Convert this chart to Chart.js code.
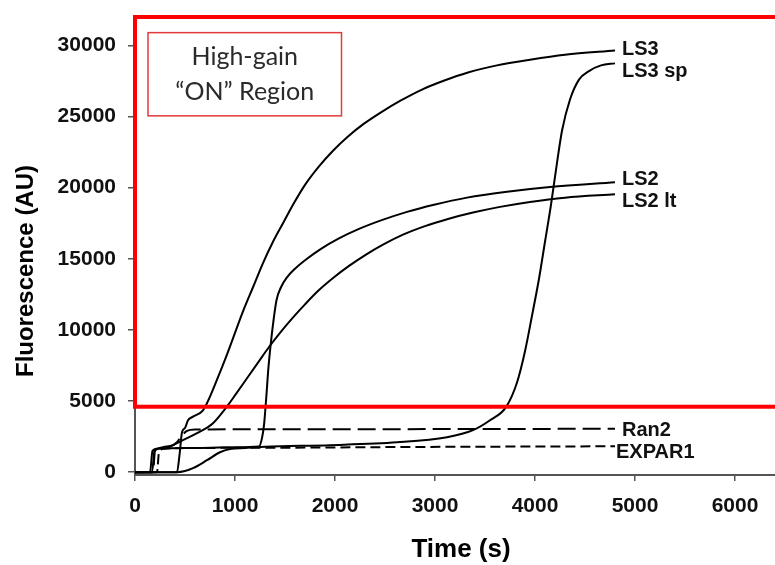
<!DOCTYPE html>
<html>
<head>
<meta charset="utf-8">
<script src="https://cdn.jsdelivr.net/npm/chart.js@4"></script>
<style>
  html, body { margin: 0; padding: 0; background: #fff; }
  canvas { display: block; }
</style>
</head>
<body>
<canvas id="graficoFluorescencia" width="775" height="565"></canvas>
<script>
// Datos: tiempo (s) y fluorescencia (AU) de cada curva
const tiempoLS3 = [0, 420, 445, 470, 500, 530, 580, 680, 730, 820, 905, 990, 1080, 1180, 1280, 1380, 1480, 1580, 1700, 1840, 1980, 2130, 2290, 2460, 2650, 2870, 3080, 3330, 3620, 3950, 4300, 4800];
const valoresLS3 = [0, 0, 1200, 2800, 3100, 3650, 3900, 4350, 5000, 6500, 8000, 9600, 11300, 13000, 14700, 16200, 17500, 18800, 20200, 21500, 22600, 23600, 24500, 25300, 26100, 26900, 27500, 28100, 28600, 29000, 29350, 29650];

const tiempoLS3sp = [0, 420, 500, 580, 720, 850, 950, 1100, 1300, 1950, 2620, 3120, 3380, 3550, 3710, 3820, 3900, 3970, 4040, 4100, 4160, 4215, 4270, 4350, 4440, 4540, 4660, 4800];
const valoresLS3sp = [0, 0, 80, 280, 840, 1400, 1620, 1700, 1780, 1900, 2100, 2460, 2950, 3650, 4570, 6300, 8500, 11000, 13600, 16200, 18800, 21500, 24000, 26200, 27600, 28200, 28600, 28740];

const tiempoLS2 = [0, 170, 195, 240, 600, 1000, 1240, 1270, 1290, 1310, 1335, 1365, 1415, 1460, 1520, 1600, 1720, 1860, 2030, 2240, 2460, 2720, 2990, 3320, 3700, 4150, 4800];
const valoresLS2 = [0, 0, 1500, 1650, 1700, 1750, 1800, 2400, 3300, 5000, 7400, 9500, 12090, 13000, 13700, 14300, 15000, 15700, 16400, 17100, 17700, 18300, 18800, 19300, 19700, 20050, 20380];

const tiempoLS2lt = [0, 150, 175, 220, 280, 380, 420, 480, 620, 780, 917, 1010, 1120, 1230, 1340, 1450, 1570, 1700, 1840, 1990, 2140, 2310, 2480, 2680, 2900, 3130, 3380, 3650, 3950, 4300, 4800];
const valoresLS2lt = [0, 0, 1500, 1650, 1760, 1900, 2040, 2250, 2740, 3440, 4590, 5500, 6600, 7700, 8800, 9800, 10800, 11800, 12800, 13700, 14500, 15300, 16000, 16700, 17300, 17800, 18250, 18650, 19000, 19300, 19530];

const tiempoRan2 = [0, 180, 200, 250, 350, 420, 460, 520, 600, 2000, 4800];
const valoresRan2 = [0, 0, 1500, 1700, 1800, 2100, 2500, 2900, 3000, 3020, 3050];

const tiempoEXPAR1 = [0, 220, 240, 290, 600, 1500, 2500, 3500, 4800];
const valoresEXPAR1 = [0, 0, 1400, 1650, 1700, 1720, 1760, 1790, 1820];

// Nombres de las curvas (se escriben al final de cada una)
const nombresCurvas = ['LS3', 'LS3 sp', 'LS2', 'LS2 lt', 'Ran2', 'EXPAR1'];

// Marcas de los ejes
const ticksX = [0, 1000, 2000, 3000, 4000, 5000, 6000];
const ticksY = [0, 5000, 10000, 15000, 20000, 25000, 30000];

// Límites de la región "ON" (recuadro rojo) y del cuadro de texto
const regionOnMin = 4600;
const regionOnMax = 32000;
const textoRegion = ['High-gain', '\u201CON\u201D Region'];

// Une tiempos y valores en puntos {x, y}
function puntos(tiempos, valores) {
    return tiempos.map((t, i) => ({ x: t, y: valores[i] }));
}

const series = [
    puntos(tiempoLS3, valoresLS3),
    puntos(tiempoLS3sp, valoresLS3sp),
    puntos(tiempoLS2, valoresLS2),
    puntos(tiempoLS2lt, valoresLS2lt),
    puntos(tiempoRan2, valoresRan2),
    puntos(tiempoEXPAR1, valoresEXPAR1)
];

// Estilo de línea de cada curva (las dos últimas son discontinuas)
const guiones = [[], [], [], [], [18, 7], [10, 5]];
// Ajuste en píxeles de cada etiqueta respecto al final de su curva
const ajusteEtiquetas = [[7, 5], [7, 13.7], [7, 3], [7, 13], [7, 7.4], [1, 12]];

// Plugin que dibuja el recuadro rojo, el cuadro de texto, las etiquetas y los títulos
const extras = {
    id: 'extras',
    afterDatasetsDraw(chart) {
        const ctx = chart.ctx;
        const x = chart.scales.x;
        const y = chart.scales.y;
        ctx.save();

        // Recuadro rojo de la región "ON"
        const x0 = x.getPixelForValue(0);
        const yArriba = y.getPixelForValue(regionOnMax);
        const yAbajo = y.getPixelForValue(regionOnMin);
        ctx.strokeStyle = '#ff0000';
        ctx.lineWidth = 4;
        ctx.strokeRect(x0, yArriba, chart.width + 20 - x0, yAbajo - yArriba);

        // Cuadro de texto "High-gain ON Region"
        const bx0 = x.getPixelForValue(130), bx1 = x.getPixelForValue(2065);
        const by0 = y.getPixelForValue(30900), by1 = y.getPixelForValue(25050);
        ctx.strokeStyle = '#e23a3a';
        ctx.lineWidth = 1.5;
        ctx.strokeRect(bx0, by0, bx1 - bx0, by1 - by0);
        ctx.fillStyle = '#2a2a2a';
        ctx.font = '25px Lato, "Open Sans", sans-serif';
        ctx.textAlign = 'center';
        ctx.textBaseline = 'alphabetic';
        ctx.fillText(textoRegion[0], (bx0 + bx1) / 2, by0 + 32.5);
        ctx.fillText(textoRegion[1], (bx0 + bx1) / 2, by0 + 67.5);

        // Etiquetas al final de cada curva
        ctx.fillStyle = '#111';
        ctx.font = 'bold 20px "Liberation Sans", Arial, sans-serif';
        ctx.textAlign = 'left';
        series.forEach((datos, i) => {
            const ultimo = datos[datos.length - 1];
            const px = x.getPixelForValue(ultimo.x) + ajusteEtiquetas[i][0];
            const py = y.getPixelForValue(ultimo.y) + ajusteEtiquetas[i][1];
            ctx.fillText(nombresCurvas[i], px, py);
        });

        // Títulos de los ejes
        ctx.fillStyle = '#000';
        ctx.font = 'bold 26px "Liberation Sans", Arial, sans-serif';
        ctx.textAlign = 'center';
        ctx.fillText('Time (s)', 461, 557);
        ctx.save();
        ctx.translate(33, 271);
        ctx.rotate(-Math.PI / 2);
        ctx.font = 'bold 24px "Liberation Sans", Arial, sans-serif';
        ctx.fillText('Fluorescence (AU)', 0, 0);
        ctx.restore();

        ctx.restore();
    }
};

const fuenteTicks = { family: '"Liberation Sans", Arial, sans-serif', size: 21, weight: 'bold' };

const ctx = document.getElementById('graficoFluorescencia').getContext('2d');
window.chart = new Chart(ctx, {
    type: 'line',
    data: {
        datasets: series.map((datos, i) => ({
            label: nombresCurvas[i],
            data: datos,
            borderColor: '#000',
            borderWidth: 2,
            borderDash: guiones[i],
            pointRadius: 0,
            fill: false,
            cubicInterpolationMode: 'monotone'
        }))
    },
    options: {
        responsive: false,
        animation: false,
        devicePixelRatio: 1,
        layout: { padding: { top: 17, right: 0, bottom: 0, left: 0 } },
        plugins: {
            legend: { display: false },
            tooltip: { enabled: false }
        },
        scales: {
            x: {
                type: 'linear',
                min: 0,
                max: 6400,
                afterFit: (escala) => {
                    escala.height = 90;
                    escala.paddingLeft = 0;
                    escala.paddingRight = 0;
                },
                afterBuildTicks: (escala) => { escala.ticks = ticksX.map(v => ({ value: v })); },
                ticks: {
                    callback: (v) => String(v),
                    font: fuenteTicks,
                    color: '#111',
                    padding: 13,
                    maxRotation: 0
                },
                grid: { drawOnChartArea: false, drawTicks: true, tickLength: 6, color: '#555', lineWidth: 1.5 },
                border: { display: true, color: '#555', width: 2 }
            },
            y: {
                type: 'linear',
                min: -200,
                max: 32000,
                afterFit: (escala) => {
                    escala.width = 135;
                    escala.paddingTop = 0;
                    escala.paddingBottom = 0;
                },
                afterBuildTicks: (escala) => { escala.ticks = ticksY.map(v => ({ value: v })); },
                ticks: {
                    callback: (v) => String(v),
                    font: fuenteTicks,
                    color: '#111',
                    padding: 12
                },
                grid: { drawOnChartArea: false, drawTicks: true, tickLength: 7, color: '#555', lineWidth: 1.5 },
                border: { display: true, color: '#555', width: 2 }
            }
        }
    },
    plugins: [extras]
});
</script>
</body>
</html>
